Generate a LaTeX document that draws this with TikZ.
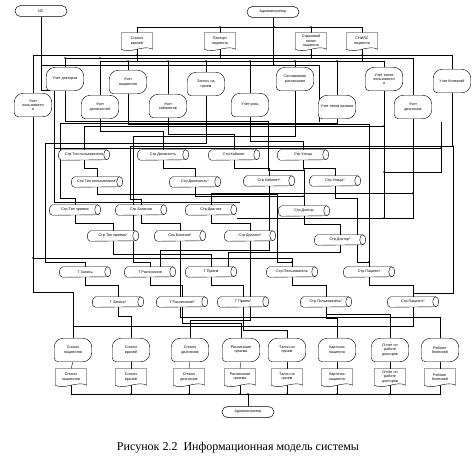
\documentclass[tikz,border=0pt]{standalone}
\usepackage{fontspec}
\setmainfont{Liberation Serif}
\newfontfamily\dfont{Liberation Sans}
\usetikzlibrary{shapes.misc}
\pgfdeclarelayer{bg}
\pgfdeclarelayer{shp}
\pgfsetlayers{bg,shp,main}
\begin{document}
\begin{tikzpicture}[x=1pt,y=-1pt,
  line width=0.5pt,
  ft/.style={font=\dfont\fontsize{3.7}{4.2}\selectfont},
  term/.style={ft,rounded rectangle,draw,fill=white,minimum width=52pt,minimum height=11pt,inner sep=0pt},
  docn/.style={ft,align=center,minimum width=31pt,minimum height=16pt,inner sep=0pt},
  procn/.style={ft,align=center,minimum width=37pt,minimum height=23pt,inner sep=0pt},
  tab/.style={ft,minimum width=51pt,minimum height=10pt,inner sep=0pt},
  thk/.style={line width=0.95pt},
  jd/.style={circle,fill=black,inner sep=0pt,minimum size=1.8pt}]
\useasboundingbox (0,0) rectangle (476,460);

% terminals
\node[term] (IS) at (41,11) {ИС};
\node[term] (adm1) at (273,12) {Администратор};
\node[term] (adm2) at (248,412) {Администратор};

% top documents
\node[docn] (d1) at (137,41) {Список\\врачей};
\node[docn] (d2) at (220,41) {Паспорт\\пациента};
\node[docn] (d3) at (311,41) {Страховой\\полис\\пациента};
\node[docn] (d4) at (362,41) {СНИЛС\\пациента};

% processes row 1
\node[procn] (Pdoc) at (65,79) {Учет докторов};
\node[procn] (Ppac) at (128,82) {Учет\\пациентов};
\node[procn] (Pzap) at (206,84) {Запись на\\прием};
\node[procn] (Psost) at (295,79) {Составление\\расписания};
\node[procn] (Ptpu) at (384,79) {Учет типов\\пользовател\\я};
\node[procn] (Pbol) at (452,81) {Учет болезней};
% processes row 2
\node[procn] (Pusr) at (33,105) {Учет\\пользовател\\я};
\node[procn] (Pdol) at (100,107) {Учет\\должностей};
\node[procn] (Pkab) at (168,106) {Учет\\кабинетов};
\node[procn] (Pul) at (250,105) {Учет улиц};
\node[procn] (Ptpr) at (337,107) {Учет типов приема};
\node[procn] (Pdiag) at (413,107) {Учет\\диагнозов};

% tables
\node[tab] (Ctpu) at (84,155) {Стр Тип пользователя};
\node[tab] (Cdol) at (163,155) {Стр Должность};
\node[tab] (Ckab) at (234,155) {Стр Кабинет};
\node[tab] (Cul) at (303,155) {Стр Улица};
\node[tab] (Ctpus) at (97,182) {Стр Тип пользователя*};
\node[tab] (Cdols) at (195,182) {Стр Должность*};
\node[tab] (Ckabs) at (269,181) {Стр Кабинет*};
\node[tab] (Culs) at (335,181) {Стр Улица*};
\node[tab] (Ctpr) at (75,210) {Стр Тип приема};
\node[tab] (Cbol) at (141,210) {Стр Болезни};
\node[tab] (Cdiag) at (211,210) {Стр Диагноз};
\node[tab] (Cdoc) at (304,211) {Стр Доктор};
\node[tab] (Ctprs) at (113,236) {Стр Тип приема*};
\node[tab] (Cbols) at (180,236) {Стр Болезни*};
\node[tab] (Cdiags) at (250,236) {Стр Диагноз*};
\node[tab] (Cdocs) at (340,240) {Стр Доктор*};
\node[tab] (Tzap) at (85,272) {Т Запись};
\node[tab] (Tras) at (150,272) {Т Расписание};
\node[tab] (Tpri) at (211,272) {Т Прием};
\node[tab] (Cusr) at (292,272) {Стр Пользователь};
\node[tab] (Cpac) at (369,272) {Стр Пациент};
\node[tab] (Tzaps) at (118,302) {Т Запись*};
\node[tab] (Trass) at (182,302) {Т Расписание*};
\node[tab] (Tpris) at (243,302) {Т Прием*};
\node[tab] (Cusrs) at (326,302) {Стр Пользователь*};
\node[tab] (Cpacs) at (413,302) {Стр Пациент*};

% bottom processes
\node[procn] (B1) at (73,350) {Список\\пациентов};
\node[procn] (B2) at (131,350) {Список\\врачей};
\node[procn] (B3) at (190,350) {Список\\диагнозов};
\node[procn] (B4) at (241,350) {Расписание\\приема};
\node[procn] (B5) at (287,350) {Талон на\\прием};
\node[procn] (B6) at (337,350) {Карточка\\пациента};
\node[procn] (B7) at (390,350) {Отчет по\\работе\\докторов};
\node[procn] (B8) at (440,350) {Рейтинг\\болезней};
% bottom documents
\node[docn] (E1) at (71,377) {Список\\пациентов};
\node[docn] (E2) at (131,377) {Список\\врачей};
\node[docn] (E3) at (189,377) {Список\\диагнозов};
\node[docn] (E4) at (240,377) {Расписание\\приема};
\node[docn] (E5) at (287,377) {Талон на\\прием};
\node[docn] (E6) at (337,377) {Карточка\\пациента};
\node[docn] (E7) at (390,377) {Отчет по\\работе\\докторов};
\node[docn] (E8) at (440,377) {Рейтинг\\болезней};

\node (cap) at (238,448) {\fontsize{12}{14}\selectfont Рисунок 2.2\ \ Информационная модель системы};

% shapes
\begin{pgfonlayer}{shp}
\foreach \n in {d1,d2,d3,d4,E1,E2,E3,E4,E5,E6,E7,E8}
  \draw[fill=white] (\n.south east) -- (\n.north east) -- (\n.north west) -- (\n.south west)
     .. controls +(9,5) and +(-9,-5) .. (\n.south east);
\foreach \n in {Pdoc,Ppac,Pzap,Psost,Ptpu,Pbol,Pusr,Pdol,Pkab,Pul,Ptpr,Pdiag,B1,B2,B3,B4,B5,B6,B7,B8}
  \draw[fill=white] (\n.south west) [rounded corners=9pt] -- (\n.north west) -- (\n.north east) -- (\n.south east) [rounded corners=4pt] -- cycle;
\foreach \n in {Ctpu,Cdol,Ckab,Cul,Ctpus,Cdols,Ckabs,Culs,Ctpr,Cbol,Cdiag,Cdoc,Ctprs,Cbols,Cdiags,Cdocs,Tzap,Tras,Tpri,Cusr,Cpac,Tzaps,Trass,Tpris,Cusrs,Cpacs}
{
  \draw[fill=white] ([xshift=3pt]\n.north west) -- ([xshift=-3pt]\n.north east)
     arc[start angle=90,end angle=-90,x radius=3pt,y radius=5pt]
     -- ([xshift=3pt]\n.south west)
     arc[start angle=270,end angle=90,x radius=3pt,y radius=5pt] -- cycle;
  \draw ([xshift=-3pt]\n.north east) arc[start angle=90,end angle=270,x radius=3pt,y radius=5pt];
}
\end{pgfonlayer}

% connectors
\begin{pgfonlayer}{bg}
% top
\draw[thk] (IS.south) -- (41,90) -- (54,90) -- (54,202) -- (240,202);
\draw[thk] (41,65) -- (319,65) -- (319,122);
\draw[thk] (adm1.south) -- (adm1.south |- 0,65);
\draw (d1.north) |- (d4.north |- 0,27) -- (d4.north);
\draw (d2.north) -- (d2.north |- 0,27);
\draw (d3.north) -- (d3.north |- 0,27);
\draw (d1.south) -- (137,61);
\draw (d2.south) -- (220,58);
\draw (d3.south) -- (311,58);
\draw (d4.south) -- (362,61);
\draw (Pusr.north) |- (Pbol.north |- 0,55) -- (Pbol.north);
\draw (Pdoc.north) |- (Pdiag.north |- 0,58) -- (Pdiag.north);
\draw (Pdol.north) |- (Ptpu.north |- 0,61) -- (Ptpu.north);
\foreach \n in {Ppac,Pkab,Pzap,Pul,Psost,Ptpr}
  \draw (\n.north) -- (\n.north |- 0,61);
% frame lines
\draw (54,148) -- (441,148);
\draw (441,122) -- (441,172) -- (384,172);
% processes to tables
\draw (Ptpu.south) |- (Ctpu.north |- 0,126) -- (Ctpu.north);
\draw (384,126) -- (384,218) -- (237,218);
\draw (Pdol.south) -- ++(0,12) -| (Cdol.north);
\draw (Pkab.south) -- ++(0,16) -| (Ckab.north);
\draw (Pul.south) -- ++(0,24) -| (Cul.north);
\draw (Ptpr.south) |- (60,123) |- (Ctpr.north |- 0,198) -- (Ctpr.north);
\draw (Pbol.south) |- (130,146) |- (Cbol.north |- 0,199) -- (Cbol.north);
\draw (453,146) |- ([yshift=4pt]Cpacs.north) -- (Cpacs.north);
\draw (Pdiag.south) |- (Cdiag.north |- 0,193) -- (Cdiag.north);
\draw (413,193) -- (413,218) -- (384,218);
\draw (Pdoc.south) |- (268,121) |- (Cdoc.north |- 0,170) -- (Cdoc.north);
\draw (Ppac.south) |- (Cpac.north |- 0,124) -- (Cpac.north);
\draw (Pusr.south) |- (Cusr.north |- 0,258) -- (Cusr.north);
\draw (33,258) -- (33,292) -| (B1.north);
\draw (Pzap.south) |- (45,143) |- (Tzap.north |- 0,262) -- (Tzap.north);
\draw (Psost.south) |- (133,136) |- (Tras.north |- 0,262) -- (Tras.north);
% table to table*
\foreach \a/\b in {Ctpu/Ctpus,Cdol/Cdols,Ckab/Ckabs,Cul/Culs,Ctpr/Ctprs,Cbol/Cbols,Cdiag/Cdiags,Cdoc/Cdocs,Tzap/Tzaps,Tras/Trass,Tpri/Tpris,Cusr/Cusrs,Cpac/Cpacs}
  \draw (\a.south) -- ++(0,8) -| (\b.north);
% uses
\draw (Ctprs.south) |- (Tpri.north |- 0,254) -- (Tpri.north);
\draw (Cdols.south) |- (Cdoc.north |- 0,196) -- (Cdoc.north);
\draw (Ckabs.south) |- (160,250) -- ([xshift=10pt]Tras.north);
\draw (Culs.south) |- (357,198) |- (Cpac.north |- 0,262) -- (Cpac.north);
\draw (Ctpus.south) |- (277,194) |- (Cusr.north |- 0,262) -- (Cusr.north);
\draw (Cdocs.south) |- (228,252) -- ([xshift=17pt]Tpri.north);
% outputs
\draw (Cpacs.south) |- (B1.north |- 0,326) -- (B1.north);
\draw (Tzaps.south) |- (B2.north |- 0,316) -- (B2.north);
\draw (Cdiags.south) |- (B3.north |- 0,320) -- (B3.north);
\draw (Trass.south) |- (B4.north |- 0,323) -- (B4.north);
\draw (Tpris.south) |- (B5.north |- 0,330) -- (B5.north);
\draw (Cusrs.south) |- (B6.north |- 0,318) -- (B6.north);
\draw (Cusrs.south) |- (B7.north |- 0,314) -- (B7.north);
\draw (Cbols.south) |- (B8.north |- 0,317) -- (B8.north);
% bottom
\foreach \i in {1,...,8} \draw (B\i.south) -- (E\i.north);
\draw (E1.south) |- (E8.south |- 0,394) -- (E8.south);
\foreach \i in {2,...,7} \draw (E\i.south) -- (E\i.south |- 0,394);
\draw[thk] (adm2.north) -- (adm2.north |- 0,394);
\end{pgfonlayer}

% junction dots
\foreach \p in {(274,27),(220,27),(311,27),(137,55),(220,55),(311,55),(362,55),(128,61),(168,61),(206,61),(250,61),(295,61),(337,61),(65,58),(100,58),(274,65),(384,126),(453,146),(413,193),(33,258),(384,218),(131,394),(189,394),(240,394),(287,394),(337,394),(390,394),(248,394),(304,196),(304,170),(369,262),(292,262),(384,172),(441,148)}
  \node[jd] at \p {};
\end{tikzpicture}
\end{document}
